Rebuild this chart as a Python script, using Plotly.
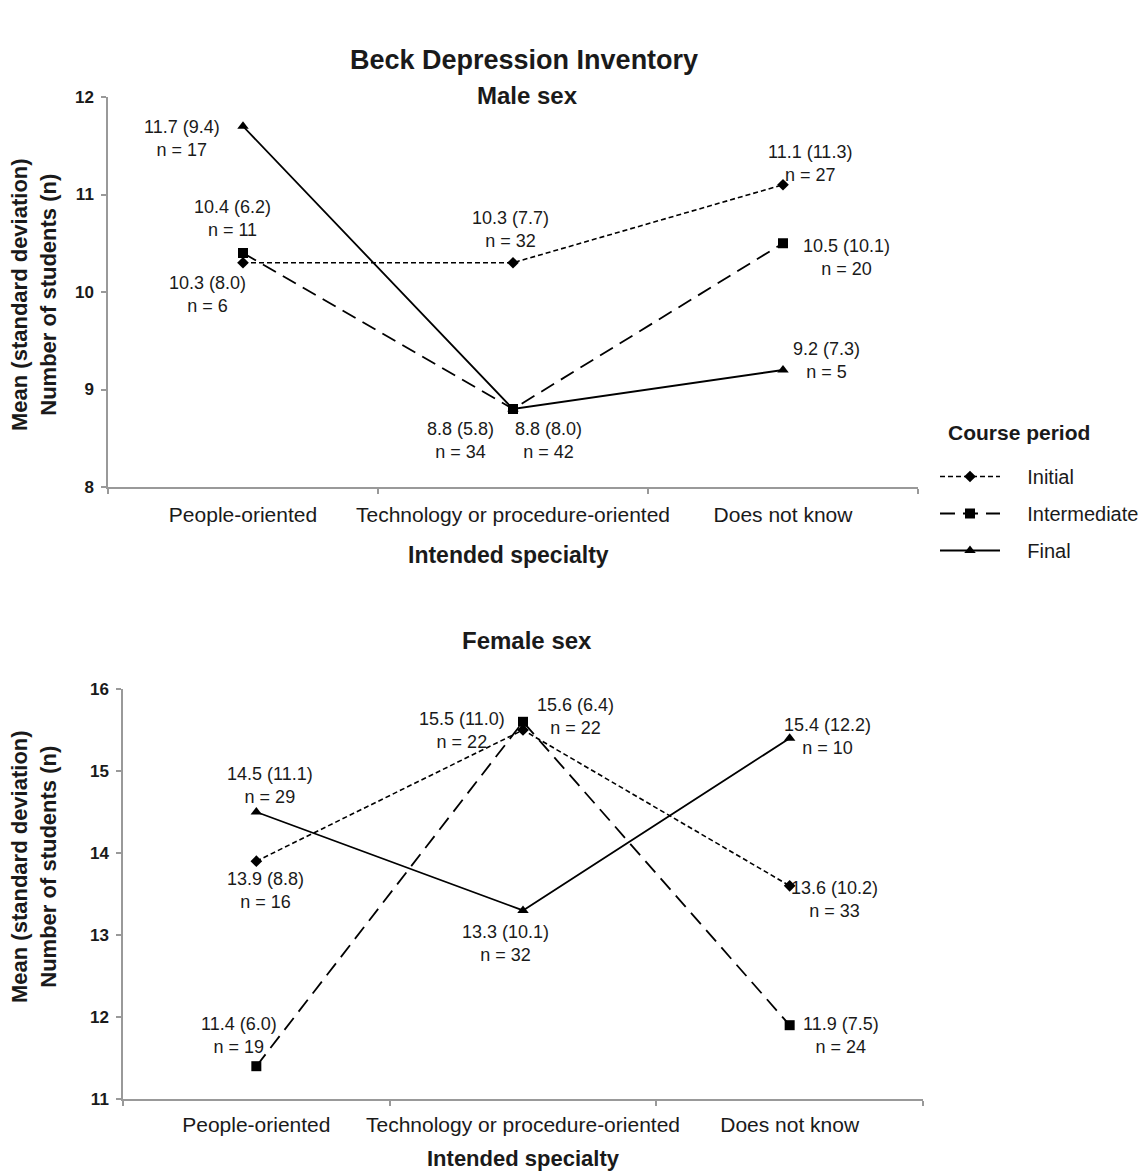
import plotly.graph_objects as go

categories = ["People-oriented", "Technology or procedure-oriented", "Does not know"]
series_names = ["Initial", "Intermediate", "Final"]

# Male sex: mean, SD, n
male_initial_mean = [10.3, 10.3, 11.1]
male_initial_sd = [8.0, 7.7, 11.3]
male_initial_n = [6, 32, 27]
male_intermediate_mean = [10.4, 8.8, 10.5]
male_intermediate_sd = [6.2, 5.8, 10.1]
male_intermediate_n = [11, 34, 20]
male_final_mean = [11.7, 8.8, 9.2]
male_final_sd = [9.4, 8.0, 7.3]
male_final_n = [17, 42, 5]

# Female sex: mean, SD, n
female_initial_mean = [13.9, 15.5, 13.6]
female_initial_sd = [8.8, 11.0, 10.2]
female_initial_n = [16, 22, 33]
female_intermediate_mean = [11.4, 15.6, 11.9]
female_intermediate_sd = [6.0, 6.4, 7.5]
female_intermediate_n = [19, 22, 24]
female_final_mean = [14.5, 13.3, 15.4]
female_final_sd = [11.1, 10.1, 12.2]
female_final_n = [29, 32, 10]

male_y_ticks = [8, 9, 10, 11, 12]
female_y_ticks = [11, 12, 13, 14, 15, 16]

# label pixel offsets (dx, dy) per series / category
male_offsets = {
    "Initial": [(-36, -32), (-3, 33), (27, 21)],
    "Intermediate": [(-11, 35), (-53, -31), (63, -14)],
    "Final": [(-61, -12), (35, -31), (43, 10)],
}
female_offsets = {
    "Initial": [(9, -29), (-61, 0), (45, -14)],
    "Intermediate": [(-17, 31), (52, 5), (51, -10)],
    "Final": [(14, 27), (-18, -33), (38, 2)],
}

styles = {
    "Initial": dict(dash="5px,3px", width=1.6, symbol="diamond", size=9),
    "Intermediate": dict(dash="15px,8px", width=1.8, symbol="square", size=10),
    "Final": dict(dash="solid", width=1.8, symbol="triangle-up", size=10),
}

FONT = "Arial, Liberation Sans, sans-serif"
TXT = "#1a1a1a"
PAGE_OFF = 8  # default body margin of the html page
W, H = 1147 - PAGE_OFF, 1174 - PAGE_OFF

fig = go.Figure()

male = {
    "Initial": (male_initial_mean, male_initial_sd, male_initial_n),
    "Intermediate": (male_intermediate_mean, male_intermediate_sd, male_intermediate_n),
    "Final": (male_final_mean, male_final_sd, male_final_n),
}
female = {
    "Initial": (female_initial_mean, female_initial_sd, female_initial_n),
    "Intermediate": (female_intermediate_mean, female_intermediate_sd, female_intermediate_n),
    "Final": (female_final_mean, female_final_sd, female_final_n),
}

annotations = []

for panel, data, offs, xa, ya in [("m", male, male_offsets, "x", "y"), ("f", female, female_offsets, "x2", "y2")]:
    for name in series_names:
        mean, sd, n = data[name]
        st = styles[name]
        fig.add_trace(go.Scatter(
            x=categories, y=mean, name="\u00a0\u00a0\u00a0\u00a0" + name, mode="lines+markers",
            xaxis=xa, yaxis=ya, cliponaxis=False,
            line=dict(color="black", width=st["width"], dash=st["dash"]),
            marker=dict(symbol=st["symbol"], size=st["size"], color="black"),
            showlegend=(panel == "m"), legendgroup=name,
        ))
        for i, c in enumerate(categories):
            dx, dy = offs[name][i]
            annotations.append(dict(
                x=c, y=mean[i], xref=xa, yref=ya,
                text=f"{mean[i]:.1f} ({sd[i]:.1f})<br>n = {n[i]}",
                showarrow=False, xshift=dx, yshift=dy,
                xanchor="center", yanchor="middle",
                font=dict(family=FONT, size=18, color=TXT),
                align="center",
            ))

def px_x(v):
    return (v - PAGE_OFF) / W

def px_y(v):
    return 1 - (v - PAGE_OFF) / H

def label(text, x, y, size, angle=0):
    return dict(text=text, x=px_x(x), y=px_y(y), xref="paper", yref="paper",
                xanchor="center", yanchor="middle", textangle=angle, showarrow=False,
                font=dict(family=FONT, size=size, color=TXT))

ytitle = "<b>Mean (standard deviation)<br>Number of students (n)</b>"
annotations += [
    label("<b>Beck Depression Inventory</b>", 524, 60, 27),
    label("<b>Male sex</b>", 527, 96, 24),
    label("<b>Female sex</b>", 527, 640, 24),
    label("<b>Intended specialty</b>", 508, 555, 23),
    label("<b>Intended specialty</b>", 523, 1158, 22),
    label(ytitle, 34, 295, 22, -90),
    label(ytitle, 34, 867, 22, -90),
    label("<b>Course period</b>", 1019, 433, 21),
]

axis_common = dict(showgrid=False, zeroline=False, showline=True, linecolor="#999999", linewidth=1.5,
                   ticks="outside", tickcolor="#999999", ticklen=5, tickwidth=1.5, automargin=False)
xfont = dict(family=FONT, size=21, color=TXT)
yfont = dict(family=FONT, size=17, color=TXT, weight="bold")

fig.update_layout(
    width=W, height=H, margin=dict(l=0, r=0, t=0, b=0, autoexpand=False),
    paper_bgcolor="white", plot_bgcolor="white",
    xaxis=dict(domain=[px_x(108), px_x(918)], anchor="y", type="category", range=[-0.5, 2.5],
               tickson="boundaries", ticklabelstandoff=8, tickangle=0, tickfont=xfont, **axis_common),
    yaxis=dict(domain=[px_y(487), px_y(97)], anchor="x", range=[8, 12], tickvals=male_y_ticks,
               ticklabelstandoff=4, tickfont=yfont, **axis_common),
    xaxis2=dict(domain=[px_x(123), px_x(923)], anchor="y2", type="category", range=[-0.5, 2.5],
                tickson="boundaries", ticklabelstandoff=6, tickangle=0, tickfont=xfont, **axis_common),
    yaxis2=dict(domain=[px_y(1099), px_y(689)], anchor="x2", range=[11, 16], tickvals=female_y_ticks,
                ticklabelstandoff=4, tickfont=yfont, **axis_common),
    legend=dict(x=px_x(935), y=px_y(457), xanchor="left", yanchor="top",
                font=dict(family=FONT, size=20, color=TXT), itemwidth=60, tracegroupgap=8,
                bgcolor="rgba(0,0,0,0)"),
    annotations=annotations,
)

fig.write_html("out.html")
